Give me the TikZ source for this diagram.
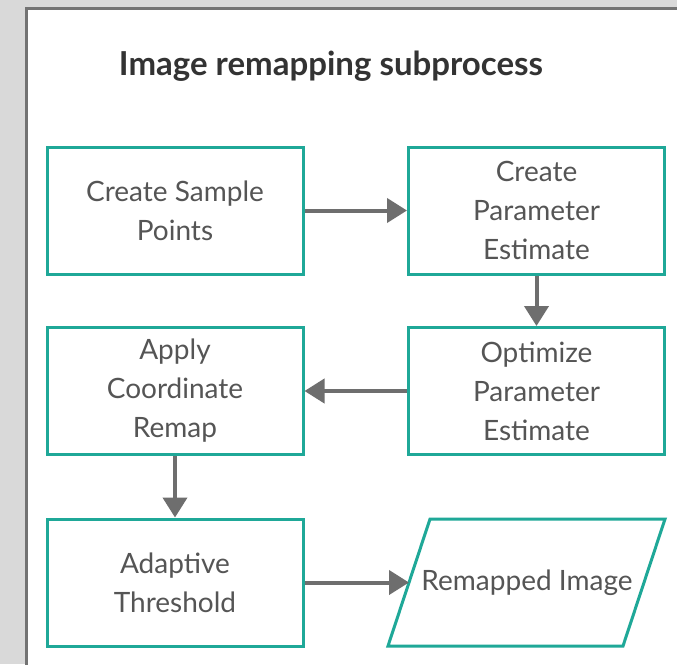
\documentclass[tikz,border=0pt]{standalone}
\usepackage{fontspec}
\setmainfont{Lato}
\usetikzlibrary{arrows.meta}
\definecolor{bggray}{HTML}{D9D9D9}
\definecolor{framegray}{HTML}{737373}
\definecolor{teal1}{HTML}{1FA898}
\definecolor{txtgray}{HTML}{555555}
\definecolor{titlegray}{HTML}{333333}
\definecolor{arrgray}{HTML}{6E6E6E}
\tikzset{
  x=1pt, y=-1pt,
  procbox/.style={draw=teal1, line width=3pt, fill=white, minimum width=256pt, minimum height=127pt, inner sep=0pt,
    text=txtgray, align=center, font=\fontsize{28}{39}\selectfont},
  flowarrow/.style={draw=arrgray, line width=4pt, -{Triangle[length=20pt,width=24pt]}, shorten >=0pt},
}
\begin{document}
\begin{tikzpicture}
\useasboundingbox (0,0) rectangle (677,664);
\fill[bggray] (0,0) rectangle (677,664);
\fill[white] (26.5,8.5) rectangle (690,680);
\draw[framegray, line width=3.5pt] (26.5,680) -- (26.5,8.5) -- (690,8.5);
\node[text=titlegray, font=\fontsize{33}{38}\bfseries\selectfont] (title) at (331,66) {Image remapping subprocess};
\node[procbox] (b1) at (175,210.5) {Create Sample\\Points};
\node[procbox] (b2) at (536.5,210.5) {Create\\Parameter\\Estimate};
\node[procbox] (b3) at (536.5,391) {Optimize\\Parameter\\Estimate};
\node[procbox] (b4) at (175,391) {Apply\\Coordinate\\Remap};
\node[procbox] (b5) at (175,582.5) {Adaptive\\Threshold};
\coordinate (pTL) at (430,519);
\coordinate (pTR) at (665,519);
\coordinate (pBR) at (623,646);
\coordinate (pBL) at (388,646);
\draw[teal1, line width=3pt, fill=white, line join=miter] (pTL) -- (pTR) -- (pBR) -- (pBL) -- cycle;
\node[text=txtgray, font=\fontsize{28}{39}\selectfont] (out) at (527,582.5) {Remapped Image};
\coordinate (outL) at (409,582.5);
\draw[flowarrow] (b1.east) -- (b2.west);
\draw[flowarrow] (b2.south) -- (b3.north);
\draw[flowarrow] (b3.west) -- (b4.east);
\draw[flowarrow] (b4.south) -- (b5.north);
\draw[flowarrow] (b5.east) -- (outL);
\end{tikzpicture}
\end{document}
